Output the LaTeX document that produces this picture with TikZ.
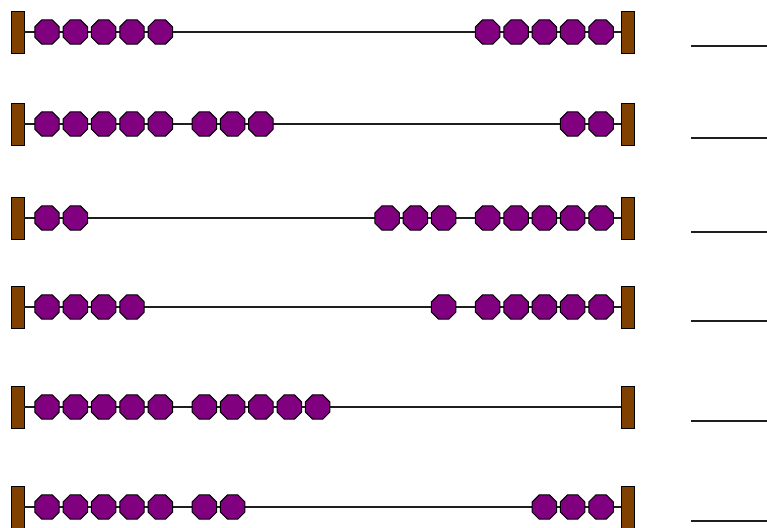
\documentclass[tikz,border=0pt]{standalone}
\usetikzlibrary{shapes.geometric}
\definecolor{beadpurple}{RGB}{128,0,128}
\definecolor{barbrown}{RGB}{128,64,0}
\definecolor{wiregray}{RGB}{30,30,30}
\begin{document}
\begin{tikzpicture}[x=1pt,y=-1pt,
  bead/.style={regular polygon, regular polygon sides=8, minimum size=26.5pt, inner sep=0pt, fill=beadpurple, draw=black, line width=1pt},
  framebar/.style={rectangle, minimum width=13pt, minimum height=42pt, inner sep=0pt, fill=barbrown, draw=black, line width=0.8pt},
  wire/.style={line width=1.6pt, draw=wiregray},
  answer/.style={line width=1.6pt, draw=wiregray}]
\useasboundingbox[fill=white] (0,0) rectangle (767,527);
\foreach \r/\y/\nl/\nr in {1/32/5/5, 2/124/8/2, 3/218/2/8, 4/307/4/6, 5/407/10/0, 6/507/7/3} {
  \node[framebar] (lb\r) at (17.5,\y) {};
  \node[framebar] (rb\r) at (627.5,\y) {};
  \draw[wire] (lb\r.east) -- (rb\r.west);
  \foreach \k in {1,...,10} {
    \ifnum\k>\nl\relax\else
      \pgfmathsetmacro\bx{47+(\k-1)*28.33+(\k>5)*15.67}
      \node[bead] (l\r-\k) at (\bx,\y) {};
    \fi
    \ifnum\k>\nr\relax\else
      \pgfmathsetmacro\bx{601-(\k-1)*28.33-(\k>5)*15.67}
      \node[bead] (r\r-\k) at (\bx,\y) {};
    \fi
  }
  \coordinate (as\r) at (691,\y+14);
  \coordinate (ae\r) at (767,\y+14);
  \draw[answer] (as\r) -- (ae\r);
}
\end{tikzpicture}
\end{document}
